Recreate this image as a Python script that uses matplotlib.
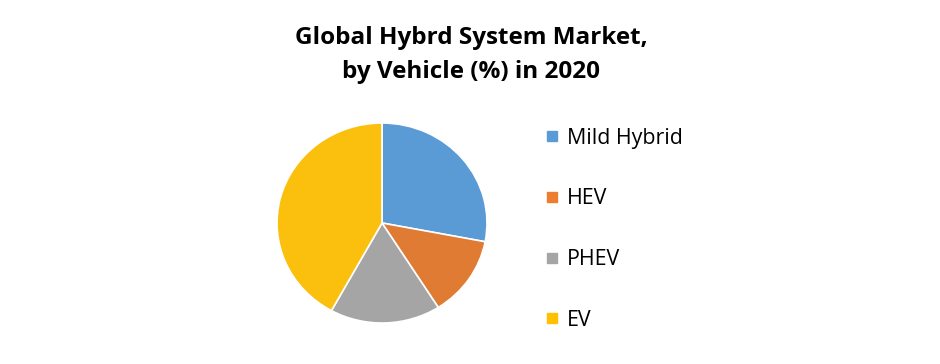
import matplotlib.pyplot as plt

# datos del grafico
categorias = ['Mild Hybrid', 'HEV', 'PHEV', 'EV']
valores = [28, 13, 17, 42]
colores = ['#5B9BD5', '#E07B33', '#A5A5A5', '#FBBF0E']
colores_leyenda = ['#5B9BD5', '#ED7D31', '#A5A5A5', '#FFC000']

plt.rcParams['font.family'] = ['Open Sans', 'DejaVu Sans']

fig = plt.figure(figsize=(9.4, 3.64), dpi=100)

# eje del pastel: centro ~ (382, 223) px, radios ~ 105 x 100 px
rx, ry = 105, 100
cx, cy = 382, 223
ax = fig.add_axes([(cx - rx) / 940, 1 - (cy + ry) / 364, 2 * rx / 940, 2 * ry / 364])
cunas, _ = ax.pie(valores, colors=colores, startangle=90, counterclock=False,
                  wedgeprops={'edgecolor': 'white', 'linewidth': 1.2})
ax.set_aspect('auto')
ax.set_xlim(-1, 1)
ax.set_ylim(-1, 1)

# titulo
fig.text(0.501, 1 - 38 / 364, 'Global Hybrd System Market,', ha='center', va='center',
         fontsize=17.5, fontweight='bold')
fig.text(0.501, 1 - 72 / 364, 'by Vehicle (%) in 2020', ha='center', va='center',
         fontsize=17.5, fontweight='bold')

# leyenda
manijas = [plt.Line2D([], [], marker='s', linestyle='none', markersize=7,
                      markerfacecolor=c, markeredgecolor=c) for c in colores_leyenda]
fig.legend(manijas, categorias, loc='upper left', bbox_to_anchor=(533 / 940, 1 - 119 / 364),
           frameon=False, fontsize=15.4, labelspacing=1.86, handletextpad=0.2,
           handlelength=1.0, borderaxespad=0)

fig.savefig('out.png', dpi=100)
